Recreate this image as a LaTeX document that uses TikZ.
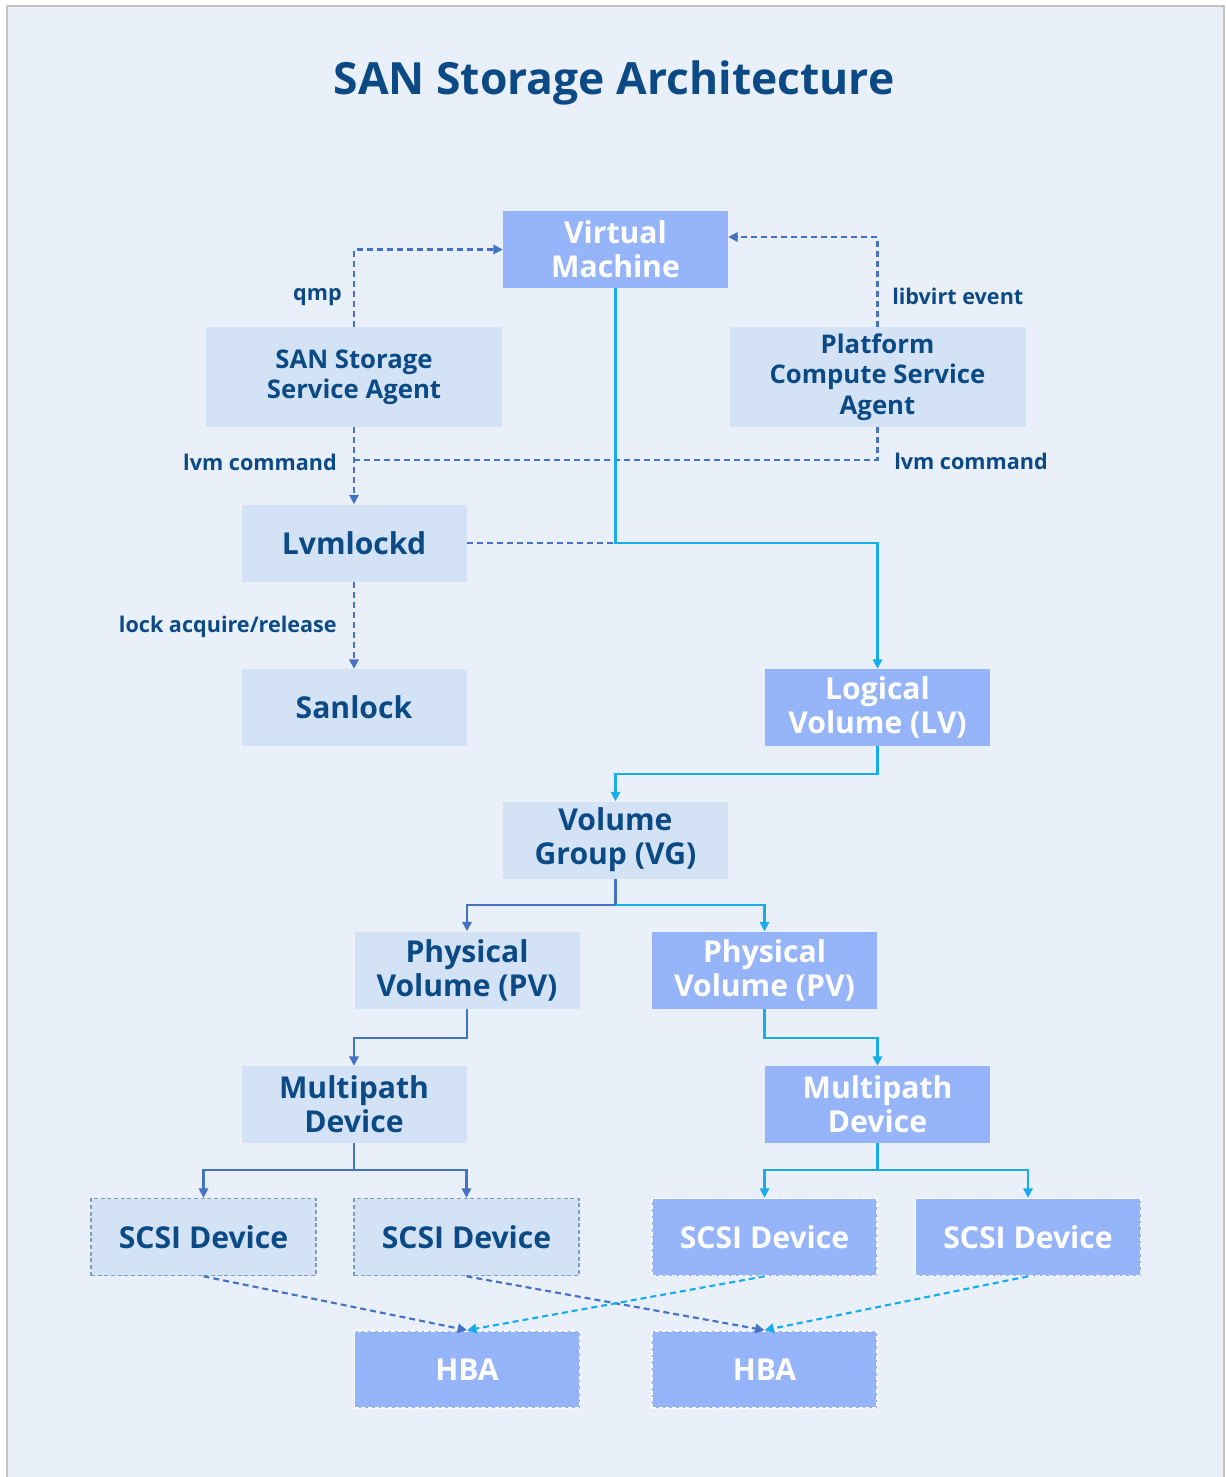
\documentclass[tikz,border=0pt]{standalone}
\usepackage{fontspec}
\setmainfont{Open Sans}
\usetikzlibrary{arrows.meta,calc}
\definecolor{pagebg}{HTML}{EAF0FA}
\definecolor{framegray}{HTML}{C3C3C3}
\definecolor{ink}{HTML}{0C4A86}
\definecolor{paleblock}{HTML}{D3E3F5}
\definecolor{vividblock}{HTML}{96B4FA}
\definecolor{navyline}{HTML}{4472C4}
\definecolor{cyanline}{HTML}{16ADEA}
\definecolor{dashedge}{HTML}{7B9DBA}

\begin{document}
\begin{tikzpicture}[x=0.75pt,y=-0.75pt,
  box/.style={rectangle,inner sep=0pt,minimum width=168.75pt,minimum height=57.75pt,
    align=center,font=\bfseries\fontsize{22.6}{25.5}\selectfont},
  pale/.style={box,fill=paleblock,text=ink},
  vivid/.style={box,fill=vividblock,text=white},
  agent/.style={pale,minimum width=222pt,minimum height=75pt,
    font=\bfseries\fontsize{19.3}{22.8}\selectfont},
  paledash/.style={pale,draw=dashedge,dash pattern=on 3pt off 2pt,line width=1.2pt},
  vividdash/.style={vivid,draw=white,dash pattern=on 3pt off 2pt,line width=1.2pt},
  navyrun/.style={draw=navyline,line width=1.6pt},
  cyanrun/.style={draw=cyanline,line width=1.6pt},
  headed/.style={-{Triangle[length=7pt,width=7pt]}},
  dashrun/.style={dash pattern=on 4.5pt off 3pt},
  lbl/.style={text=ink,font=\bfseries\fontsize{16.2}{18}\selectfont,inner sep=0pt}
]
\useasboundingbox (0,0) rectangle (1226,1477);
% page and frame
\begin{scope}
  \clip (0,0) rectangle (1226,1477);
  \fill[white] (0,0) rectangle (1226,1477);
  \draw[framegray,line width=2pt,fill=pagebg] (7,6) rectangle (1224,1495);
\end{scope}

% title
\node[text=ink,font=\bfseries\fontsize{33.3}{38}\selectfont] (title) at (614,83) {SAN Storage Architecture};

% blocks
\node[vivid] (vm) at (615.5,249.5) {Virtual\\Machine};
\node[agent] (san) at (354,377) {SAN Storage\\Service Agent};
\node[agent] (pcs) at (877.5,377) {Platform\\Compute Service\\Agent};
\node[pale] (lvm) at (354,543) {Lvmlockd};
\node[pale] (sanlock) at (354,707.5) {Sanlock};
\node[vivid] (lv) at (877.5,707.5) {Logical\\Volume (LV)};
\node[pale] (vg) at (615.5,840) {Volume\\Group (VG)};
\node[pale] (pv1) at (467,970) {Physical\\Volume (PV)};
\node[vivid] (pv2) at (764.5,970) {Physical\\Volume (PV)};
\node[pale] (mp1) at (354,1104.5) {Multipath\\Device};
\node[vivid] (mp2) at (877.5,1104.5) {Multipath\\Device};
\node[paledash] (scsi1) at (203.5,1237) {SCSI Device};
\node[paledash] (scsi2) at (466.5,1237) {SCSI Device};
\node[vividdash] (scsi3) at (764.5,1237) {SCSI Device};
\node[vividdash] (scsi4) at (1028,1237) {SCSI Device};
\node[vividdash] (hba1) at (467,1369.5) {HBA};
\node[vividdash] (hba2) at (764.5,1369.5) {HBA};

% junction points
\coordinate (lvmjoin) at (354,460);
\coordinate (vmjoin) at (615.5,543);

% control paths (dashed)
\draw[navyrun,dashrun,headed] (san.north) |- (vm.west);
\draw[navyrun,dashrun,headed] (pcs.north) |- ($(vm.east)+(0,-12.5)$);
\draw[navyrun,dashrun,headed] (san.south) -- (lvm.north);
\draw[navyrun,dashrun] (pcs.south) |- (lvmjoin);
\draw[navyrun,dashrun] (lvm.east) -- (vmjoin);
\draw[navyrun,dashrun,headed] (lvm.south) -- (sanlock.north);

% data path
\draw[cyanrun,headed] (vm.south) -- (vmjoin) -| (lv.north);
\draw[cyanrun,headed] (lv.south) -- ++(0,28) -| (vg.north);
\draw[navyrun] (vg.south) -- ++(0,26) coordinate (vgjoin);
\draw[navyrun,headed] (vgjoin) -| (pv1.north);
\draw[cyanrun,headed] (vgjoin) -| (pv2.north);
\draw[navyrun,headed] (pv1.south) -- ++(0,29) -| (mp1.north);
\draw[cyanrun,headed] (pv2.south) -- ++(0,29) -| (mp2.north);
\draw[navyrun] (mp1.south) -- ++(0,27) coordinate (mp1join);
\draw[navyrun,headed] (mp1join) -| (scsi1.north);
\draw[navyrun,headed] (mp1join) -| (scsi2.north);
\draw[cyanrun] (mp2.south) -- ++(0,27) coordinate (mp2join);
\draw[cyanrun,headed] (mp2join) -| (scsi3.north);
\draw[cyanrun,headed] (mp2join) -| (scsi4.north);

% device to HBA paths
\draw[navyrun,dashrun,headed] (scsi1.south) -- (hba1.north);
\draw[navyrun,dashrun,headed] (scsi2.south) -- (hba2.north);
\draw[cyanrun,dashrun,headed] (scsi3.south) -- (hba1.north);
\draw[cyanrun,dashrun,headed] (scsi4.south) -- (hba2.north);

% labels
\node[lbl,anchor=east] (qmplbl) at (342,297) {qmp};
\node[lbl,anchor=west] (libvirtlbl) at (892,296) {libvirt event};
\node[lbl,anchor=east] (lvmlbl1) at (337,462) {lvm command};
\node[lbl,anchor=west] (lvmlbl2) at (894,461) {lvm command};
\node[lbl,anchor=east] (locklbl) at (337,627) {lock acquire/release};
\end{tikzpicture}
\end{document}
